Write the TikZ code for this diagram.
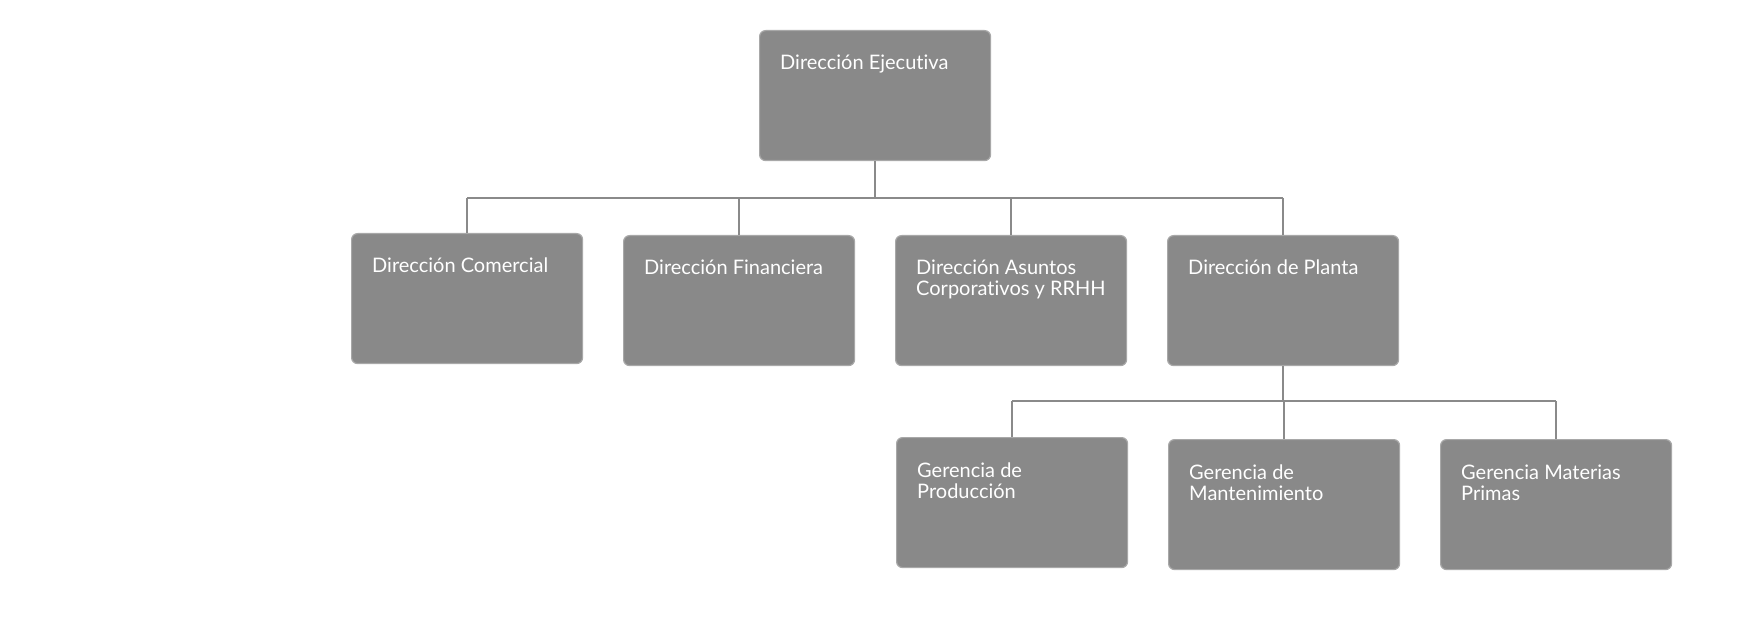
\documentclass[tikz,border=0pt]{standalone}
\usepackage{fontspec}
\setmainfont{Lato}[Ligatures=NoCommon]
\usetikzlibrary{calc}
\definecolor{boxfill}{HTML}{898989}
\definecolor{boxedge}{HTML}{A8A8A8}
\definecolor{linec}{HTML}{8A8A8A}
\newcommand{\twol}[2]{\begin{tabular}[t]{@{}l@{}}#1\\#2\end{tabular}}
\begin{document}
\begin{tikzpicture}[x=1pt,y=-1pt,
  orgbox/.style={draw=boxedge, line width=1.2pt, fill=boxfill, rounded corners=6pt,
    minimum width=231pt, minimum height=130pt, inner sep=0pt, anchor=north west},
  lbl/.style={anchor=base west, inner sep=0pt, text=white, font=\fontsize{20}{21}\selectfont},
  conn/.style={draw=linec, line width=1.6pt}]
\useasboundingbox (0,0) rectangle (1749,620);
% boxes
\node[orgbox] (ej) at (759,30) {};
\node[orgbox] (com) at (351,233) {};
\node[orgbox] (fin) at (623,235) {};
\node[orgbox] (asu) at (895,235) {};
\node[orgbox] (pla) at (1167,235) {};
\node[orgbox] (pro) at (896,437) {};
\node[orgbox] (man) at (1168,439) {};
\node[orgbox] (mat) at (1440,439) {};
% labels
\node[lbl] (ejL) at ($(ej.north west)+(21,40)$) {Dirección Ejecutiva};
\node[lbl] (comL) at ($(com.north west)+(21,40)$) {Dirección Comercial};
\node[lbl] (finL) at ($(fin.north west)+(21,40)$) {Dirección Financiera};
\node[lbl] (asuL) at ($(asu.north west)+(21,40)$) {\twol{Dirección Asuntos}{Corporativos y RRHH}};
\node[lbl] (plaL) at ($(pla.north west)+(21,40)$) {Dirección de Planta};
\node[lbl] (proL) at ($(pro.north west)+(21,40)$) {\twol{Gerencia de}{Producción}};
\node[lbl] (manL) at ($(man.north west)+(21,40)$) {\twol{Gerencia de}{Mantenimiento}};
\node[lbl] (matL) at ($(mat.north west)+(21,40)$) {\twol{Gerencia Materias}{Primas}};
% connectors
\coordinate (b1) at (0,198);
\coordinate (b2) at (0,401);
\draw[conn] (ej.south) -- (ej.south |- b1);
\draw[conn] (com.north |- b1) -- (pla.north |- b1);
\foreach \n in {com,fin,asu,pla} \draw[conn] (\n.north |- b1) -- (\n.north);
\draw[conn] (pla.south) -- (pla.south |- b2);
\draw[conn] (pro.north |- b2) -- (mat.north |- b2);
\foreach \n in {pro,man,mat} \draw[conn] (\n.north |- b2) -- (\n.north);
\end{tikzpicture}
\end{document}
